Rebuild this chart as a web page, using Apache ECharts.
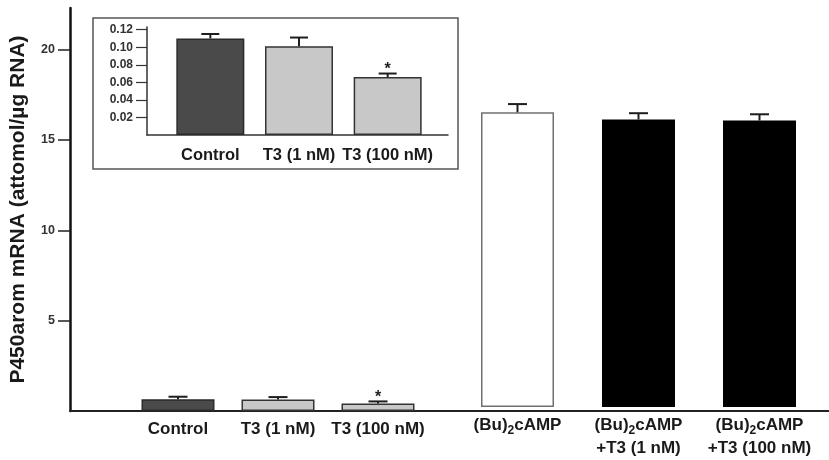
<!DOCTYPE html>
<html>
<head>
<meta charset="utf-8">
<script src="https://cdn.jsdelivr.net/npm/echarts@6/dist/echarts.min.js"></script>
<style>
  html, body { margin: 0; padding: 0; background: #fff; }
  #main { width: 829px; height: 460px; }
</style>
</head>
<body>
<div id="main"></div>
<script>
// main chart data
var leftCats = ['Control', 'T3 (1 nM)', 'T3 (100 nM)'];
var leftVals = [0.65, 0.63, 0.42];
var leftErr = [0.14, 0.14, 0.11];
var leftSig = [0, 0, 1];

var rightCats = ['(Bu)2cAMP', '(Bu)2cAMP\n+T3 (1 nM)', '(Bu)2cAMP\n+T3 (100 nM)'];
var rightVals = [16.47, 16.07, 16.01];
var rightErr = [0.46, 0.35, 0.35];
var rightSig = [0, 0, 0];

var mainTicks = [5, 10, 15, 20];

// inset data
var insetCats = ['Control', 'T3 (1 nM)', 'T3 (100 nM)'];
var insetVals = [0.110, 0.101, 0.066];
var insetErr = [0.005, 0.010, 0.004];
var insetSig = [0, 0, 1];
var insetTicks = [0.02, 0.04, 0.06, 0.08, 0.10, 0.12];

// colours
var leftColors = [
  { color: '#4a4a4a', borderColor: '#2a2a2a' },
  { color: '#c8c8c8', borderColor: '#333333' },
  { color: '#c8c8c8', borderColor: '#333333' }
];
var rightColors = [
  { color: '#ffffff', borderColor: '#707070' },
  { color: '#000000', borderColor: '#000000' },
  { color: '#000000', borderColor: '#000000' }
];

var FONT = 'Liberation Sans, Arial, Helvetica, sans-serif';
var MAIN_MAX = 22.3;
var INSET_MAX = 0.123;

function barData(vals, colors) {
  return vals.map(function (v, i) {
    return { value: v, itemStyle: { color: colors[i].color, borderColor: colors[i].borderColor, borderWidth: 1.5 } };
  });
}

function errData(vals, errs, sig) {
  return vals.map(function (v, i) { return [i, v, errs[i], sig[i]]; });
}

function errRender(capHalf) {
  return function (params, api) {
    var i = api.value(0), v = api.value(1), e = api.value(2), s = api.value(3);
    var base = api.coord([i, v]);
    var top = api.coord([i, v + e]);
    var st = { stroke: '#1e1e1e', lineWidth: 2 };
    var kids = [
      { type: 'line', shape: { x1: base[0], y1: base[1], x2: top[0], y2: top[1] }, style: st },
      { type: 'line', shape: { x1: top[0] - capHalf, y1: top[1], x2: top[0] + capHalf, y2: top[1] }, style: st }
    ];
    if (s) {
      kids.push({
        type: 'text',
        style: { text: '*', x: top[0], y: top[1] - 4, align: 'center', verticalAlign: 'middle',
                 font: 'bold 16px ' + FONT, fill: '#1e1e1e' }
      });
    }
    return { type: 'group', children: kids };
  };
}

var catLabel = {
  fontFamily: FONT, fontWeight: 'bold', fontSize: 17, color: '#1a1a1a', lineHeight: 23,
  interval: 0,
  formatter: function (v) { return v.replace('(Bu)2cAMP', '(Bu){s|2}cAMP'); },
  rich: { s: { fontFamily: FONT, fontWeight: 'bold', fontSize: 12, color: '#1a1a1a', lineHeight: 12, verticalAlign: 'bottom' } }
};

var myChart = echarts.init(document.getElementById('main'));
var option = {
  animation: false,
  backgroundColor: '#fff',
  grid: [
    { left: 68, right: 0, top: 8, bottom: 49 },          // 0 main axes
    { left: 128, width: 300, top: 8, bottom: 49 },       // 1 left bars
    { left: 457, width: 363, top: 8, bottom: 49 },       // 2 right bars
    { left: 93, top: 18, width: 365, height: 151, show: true, borderColor: '#555', borderWidth: 1.5, backgroundColor: '#fff' }, // 3 inset frame
    { left: 147, right: 381, top: 27, bottom: 325 },     // 4 inset axes
    { left: 166, width: 266, top: 27, bottom: 325 }      // 5 inset bars
  ],
  xAxis: [
    { gridIndex: 0, type: 'value', min: 0, max: 1, axisLine: { lineStyle: { color: '#222', width: 2 } },
      axisTick: { show: false }, axisLabel: { show: false }, splitLine: { show: false } },
    { gridIndex: 1, type: 'category', data: leftCats, axisLine: { show: false }, axisTick: { show: false },
      axisLabel: Object.assign({ margin: 7 }, catLabel) },
    { gridIndex: 2, type: 'category', data: rightCats, axisLine: { show: false }, axisTick: { show: false },
      axisLabel: Object.assign({ margin: 7 }, catLabel) },
    { gridIndex: 3, type: 'value', show: false },
    { gridIndex: 4, type: 'value', min: 0, max: 1, axisLine: { lineStyle: { color: '#333', width: 1.5 } },
      axisTick: { show: false }, axisLabel: { show: false }, splitLine: { show: false } },
    { gridIndex: 5, type: 'category', data: insetCats, axisLine: { show: false }, axisTick: { show: false },
      axisLabel: Object.assign({ margin: 9 }, catLabel, { fontSize: 16.5 }) }
  ],
  yAxis: [
    { gridIndex: 0, type: 'value', min: 0, max: MAIN_MAX,
      name: 'P450arom mRNA (attomol/\u00b5g RNA)', nameLocation: 'middle', nameGap: 41,
      nameTextStyle: { fontFamily: FONT, fontWeight: 'bold', fontSize: 21, color: '#1a1a1a' },
      axisLine: { show: true, lineStyle: { color: '#111', width: 2.5 } },
      axisTick: { show: true, length: 12, customValues: mainTicks, lineStyle: { color: '#222', width: 1.5 } },
      axisLabel: { customValues: mainTicks, margin: 15, fontFamily: FONT, fontWeight: 'bold', fontSize: 12.5, color: '#333' },
      splitLine: { show: false } },
    { gridIndex: 1, type: 'value', min: 0, max: MAIN_MAX, show: false, splitLine: { show: false } },
    { gridIndex: 2, type: 'value', min: 0, max: MAIN_MAX, show: false, splitLine: { show: false } },
    { gridIndex: 3, type: 'value', show: false },
    { gridIndex: 4, type: 'value', min: 0, max: INSET_MAX,
      axisLine: { show: true, lineStyle: { color: '#333', width: 1.5 } },
      axisTick: { show: true, length: 11, customValues: insetTicks, lineStyle: { color: '#333', width: 1.2 } },
      axisLabel: { customValues: insetTicks, margin: 14, fontFamily: FONT, fontWeight: 'bold', fontSize: 12, color: '#333',
        formatter: function (v) { return v.toFixed(2); } },
      splitLine: { show: false } },
    { gridIndex: 5, type: 'value', min: 0, max: INSET_MAX, show: false, splitLine: { show: false } }
  ],
  series: [
    { type: 'bar', xAxisIndex: 1, yAxisIndex: 1, barWidth: 73, data: barData(leftVals, leftColors) },
    { type: 'bar', xAxisIndex: 2, yAxisIndex: 2, barWidth: 73, data: barData(rightVals, rightColors) },
    { type: 'bar', xAxisIndex: 5, yAxisIndex: 5, barWidth: 68, data: barData(insetVals, leftColors) },
    { type: 'custom', xAxisIndex: 1, yAxisIndex: 1, renderItem: errRender(9.5), data: errData(leftVals, leftErr, leftSig), z: 3 },
    { type: 'custom', xAxisIndex: 2, yAxisIndex: 2, renderItem: errRender(9.5), data: errData(rightVals, rightErr, rightSig), z: 3 },
    { type: 'custom', xAxisIndex: 5, yAxisIndex: 5, renderItem: errRender(9), data: errData(insetVals, insetErr, insetSig), z: 3 }
  ]
};
option && myChart.setOption(option);
</script>
</body>
</html>
